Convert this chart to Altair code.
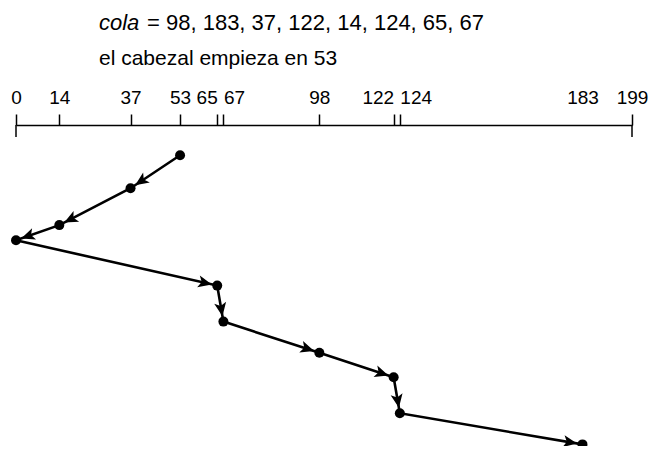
import math
import altair as alt
import pandas as pd

# ---- data ----
cola = [98, 183, 37, 122, 14, 124, 65, 67]
inicio = 53
recorrido = [53, 37, 14, 0, 65, 67, 98, 122, 124, 183]        # SCAN order
tiempo = [0, 1.09, 2.31, 2.81, 4.31, 5.5, 6.53, 7.34, 8.53, 9.56]  # relative time (downwards)
marcas = [0, 14, 37, 53, 65, 67, 98, 122, 124, 183, 199]
extremos = [0, 199]
linea1_cursiva = "cola"
linea1_resto = "= " + ", ".join(str(v) for v in cola)
linea2 = "el cabezal empieza en " + str(inicio)

# ---- layout / style ----
PAD_L = 8
W, H = 616, 321
XDOM = [0, 199]
YDOM = [-1, 9.613]
FONT = "Liberation Sans"

px_x = W / (XDOM[1] - XDOM[0])
px_y = H / (YDOM[1] - YDOM[0])

df = pd.DataFrame({"cil": recorrido, "t": tiempo, "orden": range(len(recorrido))})

# arrowheads at each destination, rotated along the segment
rows = []
for i in range(1, len(recorrido)):
    dx = (recorrido[i] - recorrido[i - 1]) * px_x
    dy = (tiempo[i] - tiempo[i - 1]) * px_y
    ang = math.degrees(math.atan2(dy, dx)) % 360
    rows.append({"cil": recorrido[i], "t": tiempo[i], "ang": ang})
arr = pd.DataFrame(rows)

x_scale = alt.Scale(domain=XDOM, nice=False, zero=False)
y_scale = alt.Scale(domain=YDOM, reverse=True, nice=False, zero=False)

axis_x = alt.Axis(
    orient="top", values=marcas, title=None, grid=False,
    domainColor="black", domainWidth=1.5,
    tickColor="black", tickWidth=1.5, tickSize=11,
    tickOpacity={"condition": {"test": "datum.value == 183", "value": 0}, "value": 1},
    labelFont=FONT, labelFontSize=19, labelColor="black", labelPadding=11,
    labelBaseline="alphabetic",
    labelAlign={"condition": [
        {"test": "datum.value == 65 || datum.value == 122", "value": "right"},
        {"test": "datum.value == 67 || datum.value == 124", "value": "left"}],
        "value": "center"},
    labelOverlap=False, labelFlush=False,
)

base = alt.Chart(df)

line = base.mark_line(color="black", strokeWidth=2.6).encode(
    x=alt.X("cil:Q", scale=x_scale, axis=axis_x),
    y=alt.Y("t:Q", scale=y_scale, axis=None),
    order="orden:Q",
)

dots = base.mark_point(filled=True, color="black", opacity=1, size=100).encode(
    x=alt.X("cil:Q", scale=x_scale),
    y=alt.Y("t:Q", scale=y_scale),
)

flechas = alt.Chart(arr).mark_point(
    filled=True, color="black", opacity=1, size=480,
    shape="M-0.5,0L-1.75,-0.55L-1.45,0L-1.75,0.55Z",
).encode(
    x=alt.X("cil:Q", scale=x_scale),
    y=alt.Y("t:Q", scale=y_scale),
    angle=alt.Angle("ang:Q", scale=None),
)

fines = alt.Chart(pd.DataFrame({"cil": extremos})).mark_rule(
    color="black", strokeWidth=1.5
).encode(
    x=alt.X("cil:Q", scale=x_scale),
    y=alt.value(0),
    y2=alt.value(12),
)

t1a = alt.Chart(pd.DataFrame({"s": [linea1_cursiva]})).mark_text(
    font=FONT, fontSize=22, fontStyle="italic", align="left",
    baseline="alphabetic", color="black",
).encode(text="s:N", x=alt.value(83), y=alt.value(-95))

t1b = alt.Chart(pd.DataFrame({"s": [linea1_resto]})).mark_text(
    font=FONT, fontSize=22, align="left", baseline="alphabetic", color="black",
).encode(text="s:N", x=alt.value(131), y=alt.value(-95))

t2 = alt.Chart(pd.DataFrame({"s": [linea2]})).mark_text(
    font=FONT, fontSize=21, align="left", baseline="alphabetic", color="black",
).encode(text="s:N", x=alt.value(83), y=alt.value(-60))

chart = alt.layer(line, fines, flechas, dots, t1a, t1b, t2).properties(
    width=W, height=H,
    autosize=alt.AutoSizeParams(type="none"),
    padding={"left": PAD_L, "top": 117, "right": 641 - PAD_L - W, "bottom": 0},
    background="white",
).configure_view(stroke=None)

chart.save("out.html", embed_options={"renderer": "svg", "actions": False})
